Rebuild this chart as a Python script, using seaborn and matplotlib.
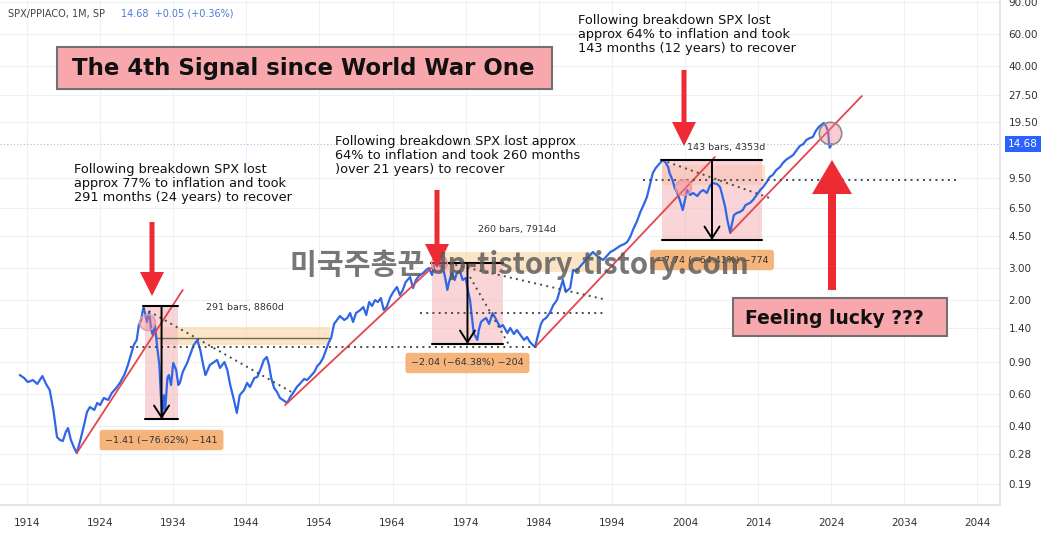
import numpy as np
import pandas as pd
import seaborn as sns
import matplotlib.pyplot as plt
import matplotlib.transforms as mtransforms
from matplotlib.patches import FancyArrow, Rectangle
from matplotlib.ticker import NullLocator

# SPX / PPIACO monthly ratio (year, ratio)
years = [1913.0, 1913.6, 1914.1, 1914.8, 1915.4, 1916.1, 1916.6, 1917.1, 1917.6, 1918.1,
         1918.5, 1918.9, 1919.3, 1919.6, 1920.0, 1920.4, 1920.8, 1921.3, 1921.8, 1922.2,
         1922.6, 1923.2, 1923.6, 1924.0, 1924.5, 1925.1, 1925.6, 1926.2, 1926.7, 1927.3,
         1927.8, 1928.2, 1928.6, 1929.0, 1929.3, 1929.6, 1929.9, 1930.1, 1930.4, 1930.7,
         1931.0, 1931.2, 1931.5, 1931.8, 1932.1, 1932.3, 1932.5, 1932.7, 1932.9, 1933.2,
         1933.4, 1933.7, 1934.0, 1934.4, 1934.7, 1934.9, 1935.3, 1935.9, 1936.3, 1936.8,
         1937.3, 1937.7, 1938.1, 1938.4, 1938.6, 1939.0, 1939.6, 1940.0, 1940.4, 1941.0,
         1941.4, 1941.8, 1942.3, 1942.7, 1943.1, 1943.7, 1944.1, 1944.5, 1945.1, 1945.5,
         1945.9, 1946.4, 1946.8, 1947.1, 1947.4, 1947.8, 1948.2, 1948.6, 1949.0, 1949.6,
         1950.0, 1950.4, 1950.9, 1951.3, 1951.9, 1952.3, 1952.7, 1953.3, 1953.7, 1954.1,
         1954.5, 1954.9, 1955.3, 1955.6, 1956.0, 1956.4, 1956.8, 1957.4, 1957.8, 1958.2,
         1958.6, 1959.0, 1959.6, 1960.0, 1960.4, 1960.8, 1961.2, 1961.6, 1962.0, 1962.4,
         1962.8, 1963.2, 1963.7, 1964.1, 1964.6, 1965.0, 1965.4, 1965.8, 1966.4, 1966.8,
         1967.2, 1967.6, 1968.2, 1968.6, 1969.0, 1969.4, 1969.8, 1970.1, 1970.5, 1970.9,
         1971.2, 1971.5, 1971.7, 1972.1, 1972.5, 1972.8, 1973.2, 1973.6, 1974.0, 1974.3,
         1974.6, 1974.9, 1975.1, 1975.6, 1975.8, 1976.1, 1976.4, 1976.8, 1977.2, 1977.7,
         1978.2, 1978.7, 1979.1, 1979.7, 1980.1, 1980.6, 1981.0, 1981.4, 1982.0, 1982.4,
         1982.8, 1983.2, 1983.5, 1983.9, 1984.3, 1984.6, 1985.0, 1985.5, 1986.0, 1986.5,
         1986.9, 1987.3, 1987.7, 1988.3, 1988.7, 1989.1, 1989.6, 1990.2, 1990.7, 1991.4,
         1992.0, 1992.4, 1992.8, 1993.3, 1993.8, 1994.3, 1994.7, 1995.1, 1995.7, 1996.1,
         1996.5, 1997.0, 1997.4, 1997.9, 1998.4, 1998.8, 1999.2, 1999.6, 2000.0, 2000.6,
         2001.0, 2001.3, 2001.7, 2001.9, 2002.3, 2002.6, 2002.9, 2003.3, 2003.7, 2004.0,
         2004.3, 2004.7, 2005.1, 2005.7, 2006.1, 2006.5, 2007.0, 2007.4, 2007.8, 2008.4,
         2008.8, 2009.1, 2009.5, 2009.8, 2010.2, 2010.4, 2010.7, 2011.1, 2011.5, 2011.9,
         2012.3, 2012.9, 2013.3, 2013.7, 2014.3, 2014.7, 2015.1, 2015.6, 2016.0, 2016.5,
         2017.0, 2017.4, 2017.8, 2018.4, 2018.8, 2019.3, 2019.7, 2020.2, 2020.6, 2021.1,
         2021.5, 2021.9, 2022.3, 2022.8, 2023.0, 2023.3, 2023.6, 2023.7, 2023.8, 2024.1]
ratio = [0.765, 0.736, 0.699, 0.717, 0.682, 0.755, 0.682, 0.631, 0.489, 0.346,
         0.333, 0.329, 0.369, 0.388, 0.333, 0.304, 0.282, 0.333, 0.404, 0.476,
         0.508, 0.489, 0.535, 0.521, 0.570, 0.556, 0.608, 0.648, 0.691, 0.765,
         0.869, 0.988, 1.122, 1.197, 1.450, 1.546, 1.802, 1.713, 1.507, 1.713,
         1.360, 1.276, 1.450, 1.094, 0.869, 0.592, 0.441, 0.592, 0.489, 0.736,
         0.765, 0.673, 0.892, 0.815, 0.673, 0.691, 0.795, 0.892, 0.988, 1.122,
         1.197, 1.053, 0.869, 0.765, 0.795, 0.869, 0.903, 0.927, 0.837, 0.903,
         0.815, 0.673, 0.556, 0.471, 0.592, 0.631, 0.691, 0.656, 0.736, 0.746,
         0.815, 0.927, 0.963, 0.869, 0.736, 0.648, 0.615, 0.570, 0.556, 0.535,
         0.577, 0.608, 0.656, 0.682, 0.727, 0.717, 0.746, 0.795, 0.858, 0.892,
         0.951, 1.053, 1.166, 1.228, 1.469, 1.546, 1.627, 1.546, 1.586, 1.690,
         1.507, 1.690, 1.757, 1.825, 1.648, 1.946, 1.849, 1.996, 1.946, 2.048,
         1.757, 1.825, 2.074, 2.212, 2.358, 2.128, 2.269, 2.513, 2.679, 2.327,
         2.578, 2.714, 2.820, 2.930, 3.006, 2.749, 3.246, 3.330, 3.084, 3.045,
         2.646, 2.269, 2.481, 2.820, 2.578, 2.820, 2.893, 2.578, 2.646, 2.269,
         1.996, 1.546, 1.309, 1.197, 1.360, 1.507, 1.546, 1.586, 1.469, 1.690,
         1.546, 1.413, 1.450, 1.309, 1.395, 1.292, 1.360, 1.292, 1.197, 1.244,
         1.166, 1.122, 1.094, 1.276, 1.469, 1.546, 1.586, 1.690, 1.873, 1.996,
         2.269, 2.578, 2.212, 2.327, 2.930, 2.893, 3.045, 3.246, 3.417, 3.689,
         3.505, 3.417, 3.330, 3.505, 3.689, 3.784, 3.882, 3.983, 4.087, 4.194,
         4.469, 5.014, 5.415, 6.153, 6.818, 7.457, 8.694, 10.13, 10.80, 11.52,
         11.97, 11.67, 10.94, 10.13, 9.27, 8.37, 7.95, 7.17, 6.31, 7.17,
         8.15, 7.65, 7.85, 7.55, 7.95, 8.15, 7.85, 8.58, 8.92, 8.80,
         8.47, 7.65, 6.56, 5.56, 4.71, 5.21, 5.92, 6.08, 6.15, 6.31,
         6.73, 6.91, 7.17, 7.55, 8.15, 8.47, 8.92, 9.63, 9.88, 10.53,
         10.94, 11.52, 11.97, 12.44, 12.76, 13.60, 14.31, 14.69, 15.46, 15.86,
         16.06, 17.35, 18.25, 18.97, 19.22, 18.49, 17.12, 15.07, 14.00, 14.68]

x_ticks = [1914, 1924, 1934, 1944, 1954, 1964, 1974, 1984, 1994, 2004, 2014, 2024, 2034, 2044]
y_ticks = [0.19, 0.28, 0.40, 0.60, 0.90, 1.40, 2.00, 3.00, 4.50, 6.50, 9.50,
           19.50, 27.50, 40.00, 60.00, 90.00]
last_price = 14.68

# breakdown episodes: price range tool (start, end, top, bottom, label, label y)
ranges = [(1930.1, 1934.7, 1.849, 0.4356, '\u22121.41 (\u221276.62%) \u2212141', 0.333),
          (1969.4, 1979.1, 3.204, 1.137, '\u22122.04 (\u221264.38%) \u2212204', 0.892),
          (2000.9, 2014.5, 11.97, 4.30, '\u22127.74 (\u221264.41%) \u2212774', 3.33)]
bars_labels = [(1943.8, 1.825, '291 bars, 8860d'),
               (1981.0, 4.89, '260 bars, 7914d'),
               (2009.6, 14.13, '143 bars, 4353d')]

sns.set_theme(style='white')
plt.rcParams['font.family'] = ['DejaVu Sans', 'Noto Sans CJK KR']

fig = plt.figure(figsize=(10.57, 5.34), dpi=100)
ax = fig.add_axes([0, 29 / 534, 1000 / 1057, 505 / 534])
pix = mtransforms.Affine2D().scale(1 / 1057, -1 / 534).translate(0, 1) + fig.transFigure

df = pd.DataFrame({'year': years, 'ratio': ratio})
sns.lineplot(data=df, x='year', y='ratio', ax=ax, color='#2f66e8', linewidth=1.6, zorder=4)

ax.set_yscale('log')
ax.set_xlim(1910.3, 2047.1)
ax.set_ylim(0.145, 92.7)
ax.set_xlabel('')
ax.set_ylabel('')
ax.set_xticks(x_ticks)
ax.set_xticklabels([str(t) for t in x_ticks])
ax.set_yticks(y_ticks)
ax.set_yticklabels([f'{v:.2f}' for v in y_ticks])
ax.yaxis.set_minor_locator(NullLocator())
ax.xaxis.set_minor_locator(NullLocator())
ax.tick_params(axis='y', left=False, right=True, labelleft=False, labelright=True,
               length=0, pad=6, labelsize=7.5, labelcolor='#333333')
ax.tick_params(axis='x', length=0, pad=9, labelsize=7.5, labelcolor='#333333')
ax.grid(True, color='#eef0f5', lw=0.8)
for s in ['top', 'left']:
    ax.spines[s].set_visible(False)
for s in ['right', 'bottom']:
    ax.spines[s].set_color('#dfe2e8')

# current price line + label
ax.axhline(last_price, color='#a9b9ea', lw=0.8, ls=(0, (1, 2)), zorder=1)
ax.text(1.008, last_price, f'{last_price:.2f}', transform=ax.get_yaxis_transform(),
        ha='left', va='center', color='white', fontsize=7.5,
        bbox=dict(boxstyle='square,pad=0.3', fc='#2962ff', ec='none'), clip_on=False)

# red trend lines
trend = [((1920.8, 0.282), (1935.3, 2.27)),
         ((1949.3, 0.521), (1970.5, 3.33)),
         ((1983.5, 1.094), (2008.1, 12.44)),
         ((2010.2, 4.71), (2028.2, 27.14))]
for (x0, y0), (x1, y1) in trend:
    ax.plot([x0, x1], [y0, y1], color='#e5454c', lw=1.3, zorder=5)

# peach bands
for x0, x1, y0, y1 in [(1931.8, 1955.4, 1.12, 1.413), (1970.9, 1992.4, 2.856, 3.689),
                       (2000.9, 2015.0, 8.69, 11.22)]:
    ax.add_patch(Rectangle((x0, y0), x1 - x0, y1 - y0, fc='#fbd3a3', ec='none',
                           alpha=0.6, zorder=2))
ax.plot([1931.8, 1955.4], [1.228, 1.228], color='#6b6b5a', lw=1.0, zorder=3)

# price range boxes
for x0, x1, top, bot, lab, lab_y in ranges:
    ax.add_patch(Rectangle((x0, bot), x1 - x0, top - bot, fc='#f6b9bd', ec='none',
                           alpha=0.6, zorder=2))
    ax.plot([x0 - 0.2, x1], [top, top], color='black', lw=1.5, zorder=6)
    ax.plot([x0, x1], [bot, bot], color='black', lw=1.5, zorder=6)
    xm = (x0 + x1) / 2
    ax.annotate('', xy=(xm, bot), xytext=(xm, top),
                arrowprops=dict(arrowstyle='->,head_length=0.7,head_width=0.45',
                                color='black', lw=1.4, shrinkA=0, shrinkB=0), zorder=6)
    ax.text(xm, lab_y, lab, ha='center', va='center', fontsize=6.8, color='#333333',
            bbox=dict(boxstyle='round,pad=0.6,rounding_size=0.3', fc='#f4b47c', ec='none'),
            zorder=6)
for bx, by, lab in bars_labels:
    ax.text(bx, by, lab, ha='center', va='center', fontsize=6.8, color='#333333', zorder=6)

# dotted helper lines
dotted = [((1928.1, 1.094), (1984.2, 1.094)),
          ((1929.9, 1.802), (1950.4, 0.608)),
          ((1967.8, 1.69), (1992.8, 1.69)),
          ((1970.1, 3.30), (1993.3, 2.00)),
          ((1974.6, 2.679), (1980.1, 1.094)),
          ((1998.3, 9.27), (2041.6, 9.27)),
          ((2001.6, 11.67), (2015.6, 7.36))]
for (x0, y0), (x1, y1) in dotted:
    ax.plot([x0, x1], [y0, y1], color='#4a4a4a', lw=1.4, ls=(0, (1, 2.2)), zorder=5)

# crossing circles
ax.scatter([1930.4, 1970.4, 2003.7], [1.507, 3.2, 8.47], s=130,
           fc=(0.95, 0.5, 0.55, 0.45), ec='#e39a9a', lw=1, zorder=7)
ax.scatter([2023.8], [16.9], s=260, fc=(0.95, 0.5, 0.55, 0.4), ec='#8a8a8a', lw=1.2, zorder=7)

# header
fig.text(8, 14, 'SPX/PPIACO, 1M, SP', transform=pix, fontsize=7, color='#444444',
         ha='left', va='center')
fig.text(121, 14, '14.68  +0.05 (+0.36%)', transform=pix, fontsize=7, color='#4a7bd6',
         ha='left', va='center')

# title box
fig.add_artist(Rectangle((57, 47), 495, 42, transform=pix, fc='#f8a8ad', ec='#707070', lw=1.5))
fig.text(303, 69, 'The 4th Signal since World War One', transform=pix, fontsize=16.5,
         weight='bold', ha='center', va='center', color='#111111')

# notes
note_kw = dict(transform=pix, fontsize=9.3, color='#111111', ha='left', va='top', linespacing=1.1)
fig.text(74, 163, 'Following breakdown SPX lost\napprox 77% to inflation and took\n'
         '291 months (24 years) to recover', **note_kw)
fig.text(335, 135, 'Following breakdown SPX lost approx\n64% to inflation and took 260 months\n'
         ')over 21 years) to recover', **note_kw)
fig.text(578, 14, 'Following breakdown SPX lost\napprox 64% to inflation and took\n'
         '143 months (12 years) to recover', **note_kw)

# red arrows
red = '#ee2a35'
for x, y0, y1 in [(152, 222, 296), (437, 190, 268), (684, 70, 146)]:
    fig.add_artist(FancyArrow(x, y0, 0, y1 - y0, width=5, head_width=24, head_length=24,
                              length_includes_head=True, transform=pix, color=red, lw=0))
fig.add_artist(FancyArrow(832, 290, 0, -130, width=8, head_width=40, head_length=34,
                          length_includes_head=True, transform=pix, color=red, lw=0))

# feeling lucky box
fig.add_artist(Rectangle((733, 298), 214, 38, transform=pix, fc='#f8a8ad', ec='#707070', lw=1.5))
fig.text(834, 318, 'Feeling lucky ???', transform=pix, fontsize=13.5, weight='bold',
         ha='center', va='center', color='#111111')

# watermark
fig.text(519, 265, '미국주총꾼 Jp-tistory.tistory.com', transform=pix, fontsize=21,
         family=['Noto Sans CJK KR', 'DejaVu Sans'], weight='bold', color='#555555', alpha=0.8,
         ha='center', va='center')

fig.savefig('out.png', dpi=100)
